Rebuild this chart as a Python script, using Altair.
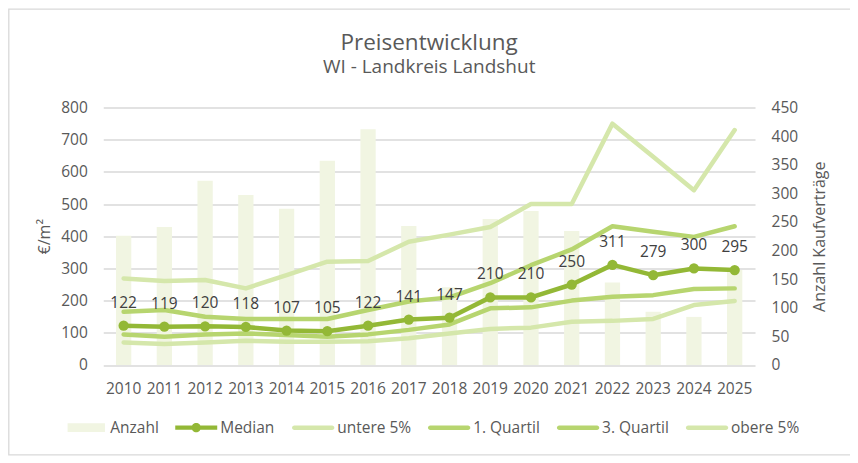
import altair as alt
import pandas as pd

years = [str(y) for y in range(2010, 2026)]
anzahl = [226, 241, 322, 297, 273, 357, 412, 243, 136, 255, 269, 234, 144, 93, 84, 166]
median = [122, 119, 120, 118, 107, 105, 122, 141, 147, 210, 210, 250, 311, 279, 300, 295]
untere5 = [70, 65, 70, 75, 72, 72, 74, 83, 98, 112, 116, 134, 137, 143, 186, 199]
quartil1 = [95, 88, 95, 98, 93, 88, 95, 109, 126, 176, 179, 200, 212, 217, 236, 238]
quartil3 = [165, 171, 150, 143, 143, 143, 171, 197, 210, 254, 310, 359, 431, 414, 398, 431]
obere5 = [269, 261, 264, 238, 279, 321, 323, 383, 405, 429, 500, 500, 750, 647, 543, 730]

series_names = ["Anzahl", "Median", "untere 5%", "1. Quartil", "3. Quartil", "obere 5%"]
series_colors = ["#f1f5e2", "#93b836", "#d5e7ab", "#b7d56f", "#b7d56f", "#d5e7ab"]

bar_df = pd.DataFrame({"year": years, "anzahl": anzahl})
line_series = {
    "Median": median,
    "untere 5%": untere5,
    "1. Quartil": quartil1,
    "3. Quartil": quartil3,
    "obere 5%": obere5,
}
rows = []
for name, vals in line_series.items():
    for y, v in zip(years, vals):
        rows.append({"year": y, "series": name, "value": v})
line_df = pd.DataFrame(rows)

TXT = "#595959"
FS = 15.5

xscale = alt.Scale(type="band", domain=years, paddingInner=0.625, paddingOuter=0.3125)
xenc = alt.X("year:N", scale=xscale, sort=years,
             axis=alt.Axis(title=None, labelAngle=0, domain=False, ticks=False, tickSize=0,
                           labelPadding=17, labelFontSize=FS, labelColor=TXT, grid=False))

left_axis = alt.Axis(title="€/m²", values=list(range(0, 801, 100)), grid=True,
                     gridColor="#d9d9d9", gridWidth=1.5, domain=False, ticks=False,
                     labelPadding=16, labelFontSize=FS, labelColor=TXT,
                     titleFontSize=16, titleColor=TXT, titleFontWeight="normal",
                     titlePadding=8)
right_axis = alt.Axis(title="Anzahl Kaufverträge", orient="right",
                      values=list(range(0, 451, 50)), grid=False, domain=False,
                      ticks=False, labelPadding=16, labelFontSize=FS, labelColor=TXT,
                      titleFontSize=16, titleColor=TXT, titleFontWeight="normal",
                      titlePadding=30, titleAngle=270)

yleft = alt.Scale(domain=[0, 800], nice=False)

bars = alt.Chart(bar_df).mark_bar(color="#f1f5e2").encode(
    x=xenc,
    y=alt.Y("anzahl:Q", scale=alt.Scale(domain=[0, 450], nice=False), axis=right_axis),
)

color_map = dict(zip(series_names, series_colors))
line_layers = []
for name in ["obere 5%", "untere 5%", "3. Quartil", "1. Quartil", "Median"]:
    line_layers.append(
        alt.Chart(line_df).transform_filter(alt.datum.series == name).mark_line(
            color=color_map[name], strokeWidth=4.5, strokeCap="round", strokeJoin="round"
        ).encode(
            x=xenc,
            y=alt.Y("value:Q", scale=yleft, axis=left_axis),
        )
    )

med_base = alt.Chart(line_df).transform_filter(alt.datum.series == "Median")
med_points = med_base.mark_circle(color="#93b836", size=105, opacity=1).encode(
    x=xenc, y=alt.Y("value:Q", scale=yleft, axis=left_axis)
)
med_labels = med_base.mark_text(dy=-18, fontSize=FS, color="#404040",
                                baseline="alphabetic").encode(
    x=xenc, y=alt.Y("value:Q", scale=yleft, axis=left_axis),
    text=alt.Text("value:Q", format="d"),
)

shape_paths = [
    "M-0.89,-0.21H0.89V0.21H-0.89Z",
    "M-1,-0.1H1V0.1H-1Z M-0.22,0A0.22,0.22 0 1,1 0.22,0A0.22,0.22 0 1,1 -0.22,0Z",
    "M-0.9,-0.107H0.9A0.107,0.107 0 0,1 0.9,0.107H-0.9A0.107,0.107 0 0,1 -0.9,-0.107Z",
    "M-0.9,-0.107H0.9A0.107,0.107 0 0,1 0.9,0.107H-0.9A0.107,0.107 0 0,1 -0.9,-0.107Z",
    "M-0.9,-0.107H0.9A0.107,0.107 0 0,1 0.9,0.107H-0.9A0.107,0.107 0 0,1 -0.9,-0.107Z",
    "M-0.9,-0.107H0.9A0.107,0.107 0 0,1 0.9,0.107H-0.9A0.107,0.107 0 0,1 -0.9,-0.107Z",
]

legend_kw = dict(orient="none", legendX=-38, legendY=299, direction="horizontal",
                 title=None, symbolSize=1764, labelFontSize=FS, labelColor=TXT,
                 columnPadding=16, labelOffset=3, symbolStrokeWidth=0)

legend_layer = alt.Chart(line_df).transform_filter(alt.datum.series == "__none__").mark_point(
    filled=True, opacity=1
).encode(
    x=xenc,
    y=alt.Y("value:Q", scale=yleft, axis=left_axis),
    fill=alt.Fill("series:N", scale=alt.Scale(domain=series_names, range=series_colors),
                  legend=alt.Legend(**legend_kw)),
    shape=alt.Shape("series:N", scale=alt.Scale(domain=series_names, range=shape_paths),
                    legend=alt.Legend(**legend_kw)),
)

border = alt.Chart(alt.Data(values=[{}])).mark_rect(
    filled=False, stroke="#d9d9d9", strokeWidth=1.3
).encode(
    x=alt.value(-94.5), x2=alt.value(749.2), y=alt.value(-98.5), y2=alt.value(347.5)
)

left_layers = alt.layer(*line_layers, med_points, med_labels, legend_layer)

chart = alt.layer(bars, left_layers, border).resolve_scale(y="independent").properties(
    width=652,
    height=257.5,
    autosize="none",
    padding={"left": 95.3, "top": 99.5, "right": 95, "bottom": 97},
    title=alt.Title("Preisentwicklung", subtitle="WI - Landkreis Landshut",
                    fontSize=22.5, subtitleFontSize=19, color=TXT, subtitleColor=TXT,
                    fontWeight="normal", anchor="middle", frame="group",
                    offset=-68.5, subtitlePadding=3),
).configure(font="Open Sans").configure_view(strokeWidth=0)

chart.save("out.html", embed_options={"renderer": "svg", "actions": False})
